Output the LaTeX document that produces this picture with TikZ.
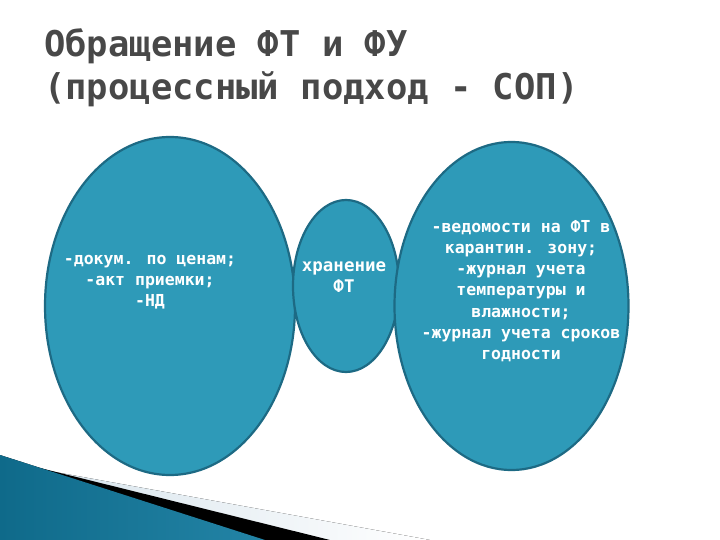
\documentclass[tikz,border=0pt]{standalone}
\usepackage{fontspec}
\setmainfont{DejaVu Sans}
\newfontfamily\titlefont{DejaVu Sans Mono}
\usetikzlibrary{shapes.geometric}
\definecolor{ovalfill}{HTML}{2E9AB8}
\definecolor{ovaledge}{HTML}{1D6A84}
\definecolor{titlegrey}{HTML}{484848}
\definecolor{paleband}{HTML}{D3E1EA}
\definecolor{decodark}{HTML}{0F6A8A}
\definecolor{decomid}{HTML}{45AACB}
\definecolor{decoright}{HTML}{2384A6}
\begin{document}
\begin{tikzpicture}[x=1pt,y=-1pt,
  oval/.style={ellipse, draw=ovaledge, fill=ovalfill, line width=2.2pt, inner sep=0pt},
  titletext/.style={anchor=base west, text=titlegrey, inner sep=0pt, font=\titlefont\bfseries\fontsize{35.5}{44}\selectfont},
  ovaltext/.style={text=white, align=center, inner sep=0pt, font=\titlefont\bfseries\fontsize{16.5}{21.2}\selectfont},
  midtextstyle/.style={ovaltext, font=\titlefont\bfseries\fontsize{17.5}{21}\selectfont}]
\useasboundingbox (0,0) rectangle (720,540);
\fill[white] (0,0) rectangle (720,540);
% bottom-left decoration
\fill[left color=paleband, right color=white] (0,462) -- (430,540) -- (0,540) -- cycle;
\fill[black] (32,466) -- (330,540) -- (0,540) -- cycle;
\fill[left color=decodark, middle color=decomid, right color=decoright] (0,455) -- (265,540) -- (0,540) -- cycle;
% title
\node[titletext] (title1) at (44,57) {Обращение ФТ и ФУ};
\node[titletext] (title2) at (44,100) {(процессный подход - СОП)};
% ovals
\node[oval, minimum width=250pt, minimum height=338pt] (left) at (170,306) {};
\node[oval, minimum width=106pt, minimum height=172pt] (middle) at (346,286) {};
\node[oval, minimum width=234pt, minimum height=328pt] (right) at (511.5,306) {};
% texts
\node[ovaltext] (lefttext) at (150,282) {-докум. по ценам;\\-акт приемки;\\-НД};
\node[midtextstyle] (midtext) at (344,277.5) {хранение\\ФТ};
\node[ovaltext] (righttext) at (521,291) {-ведомости на ФТ в\\карантин. зону;\\-журнал учета\\температуры и\\влажности;\\-журнал учета сроков\\годности};
\end{tikzpicture}
\end{document}
